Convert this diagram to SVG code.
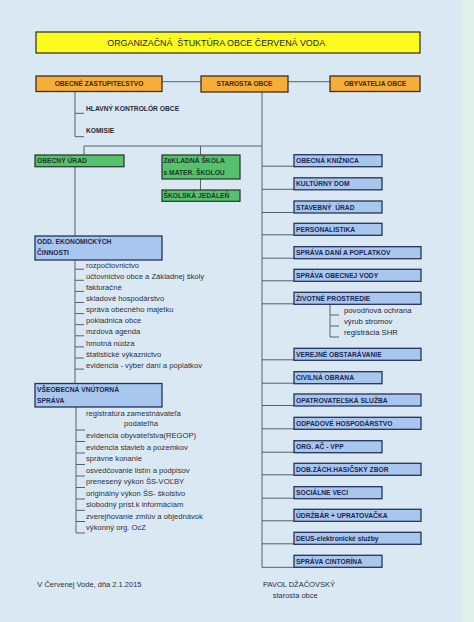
<svg xmlns="http://www.w3.org/2000/svg" width="474" height="622" viewBox="0 0 474 622">
<style>
.bg{fill:#dae8f3}
.edge{fill:#e1efe9}
.title{fill:#fbfb1e;stroke:#3a3a2a;stroke-width:1.3}
.or{fill:#f7ad3a;stroke:#40301a;stroke-width:1.3}
.gr{fill:#55c16c;stroke:#2a3f30;stroke-width:1.3}
.bl{fill:#a9c6ee;stroke:#26325a;stroke-width:1.3}
.ln{fill:none;stroke:#56606c;stroke-width:1}
text{font-family:"Liberation Sans",Arial,sans-serif}
.tt{font-size:8.9px;fill:#1e2240;white-space:pre}
.lb{font-size:6.7px;font-weight:bold;fill:#1c2650;white-space:pre}
.lbc{font-size:6.6px;font-weight:bold;fill:#3a2a10;text-anchor:middle}
.lbg{font-size:6.7px;font-weight:bold;fill:#1c3a2a}
.it{font-size:7.65px;fill:#2a3242}
.sb{font-size:7.7px;fill:#1d2540}
.hd{font-size:6.7px;font-weight:bold;fill:#262a36}
.ft{font-size:7.5px;fill:#2a3242}
</style>
<rect class="bg" x="0" y="0" width="474" height="622"/>
<rect class="edge" x="462" y="0" width="12" height="622"/>

<g id="connectors">
<path class="ln" d="M162 81.7H201M288 81.7H330"/>
<path class="ln" d="M75 91.5V136.7M75 113.3H84M75 136.7H84"/>
<path class="ln" d="M262 92V567.5"/>
<path class="ln" d="M84 146H262M84 146V155M200.5 146V155M200.5 179V190"/>
<path class="ln" d="M75 166.7V236"/>
<path class="ln" d="M75 260V383.5M75 269.2H84M75 280.3H84M75 291.4H84M75 302.5H84M75 313.6H84M75 324.7H84M75 335.8H84M75 346.9H84M75 358H84M75 369.1H84"/>
<path class="ln" d="M76 407V533M76 430H85M76 441.5H85M76 453H85M76 464.5H85M76 476H85M76 487.5H85M76 499H85M76 510.3H85M76 521.5H85M76 533H85"/>
<path class="ln" d="M262 166.2H294M262 189.3H294M262 212.5H294M262 234.8H294M262 258.2H294M262 280.8H294M262 303.8H294M262 359.8H294M262 383.2H294M262 405.5H294M262 428.8H294M262 452.2H294M262 474.8H294M262 498.2H294M262 520.8H294M262 543.8H294M262 567.3H294"/>
<path class="ln" d="M330 304V337M330 315H339M330 326H339M330 337H339"/>
</g>

<g id="title">
<rect class="title" x="36" y="32" width="384" height="21"/>
<text class="tt" x="107.3" y="45.7">ORGANIZAČNÁ  ŠTUKTÚRA OBCE ČERVENÁ VODA</text>
</g>

<g id="obecne-zastupitelstvo">
<rect class="or" x="36" y="76" width="126" height="15.5"/>
<text class="lbc" x="99" y="86.2">OBECNÉ ZASTUPITEĽSTVO</text>
</g>
<g id="starosta">
<rect class="or" x="201" y="76" width="87" height="16"/>
<text class="lbc" x="244.5" y="86.3">STAROSTA OBCE</text>
</g>
<g id="obyvatelia">
<rect class="or" x="330" y="76" width="90" height="15.5"/>
<text class="lbc" x="375" y="86.2">OBYVATELIA OBCE</text>
</g>

<g id="kontrolor"><text class="hd" x="86" y="110.8">HLAVNÝ KONTROLÓR OBCE</text></g>
<g id="komisie"><text class="hd" x="86" y="132.7">KOMISIE</text></g>

<g id="obecny-urad">
<rect class="gr" x="35" y="155" width="89" height="11.7"/>
<text class="lbg" x="37" y="163.3">OBECNÝ ÚRAD</text>
</g>
<g id="zakladna-skola">
<rect class="gr" x="162" y="155" width="78" height="24"/>
<text class="lbg" x="163.5" y="163.2">ZáKLADNÁ ŠKOLA</text>
<text class="lbg" x="163.5" y="175">s MATER. ŠKOLOU</text>
</g>
<g id="skolska-jedalen">
<rect class="gr" x="162" y="190" width="78" height="11.3"/>
<text class="lbg" x="163.5" y="198.1">ŠKOLSKÁ JEDÁLEŇ</text>
</g>

<g id="odd-ekonomickych">
<rect class="bl" x="35" y="236" width="127" height="24"/>
<text class="lb" x="37" y="244.2">ODD. EKONOMICKÝCH</text>
<text class="lb" x="37" y="255.2">ČINNOSTI</text>
</g>
<g id="ekonomicke-ulohy">
<text class="it" x="86" y="267.8">rozpočtovnictvo</text>
<text class="it" x="86" y="278.9">účtovnictvo obce a Základnej školy</text>
<text class="it" x="86" y="290">fakturačné</text>
<text class="it" x="86" y="301.1">skladové hospodárstvo</text>
<text class="it" x="86" y="312.2">správa obecného majetku</text>
<text class="it" x="86" y="323.3">pokladnica obce</text>
<text class="it" x="86" y="334.4">mzdová agenda</text>
<text class="it" x="86" y="345.5">hmotná núdza</text>
<text class="it" x="86" y="356.6">štatistické výkaznictvo</text>
<text class="it" x="86" y="367.7">evidencia - výber daní a poplatkov</text>
</g>

<g id="vseobecna-sprava">
<rect class="bl" x="35" y="383.5" width="127" height="23.5"/>
<text class="lb" x="37" y="391.6">VŠEOBECNÁ VNÚTORNÁ</text>
<text class="lb" x="37" y="403.2">SPRÁVA</text>
</g>
<g id="vseobecne-ulohy">
<text class="it" x="86" y="415.5">registratúra zamestnávateľa</text>
<text class="it" x="124" y="426.2">podateľňa</text>
<text class="it" x="86" y="438">evidencia obyvateľstva(REGOP)</text>
<text class="it" x="86" y="449.7">evidencia stavieb a pozemkov</text>
<text class="it" x="86" y="461.3">správne konanie</text>
<text class="it" x="86" y="472.8">osvedčovanie listín a podpisov</text>
<text class="it" x="86" y="484.2">prenesený výkon ŠS-VOĽBY</text>
<text class="it" x="86" y="495.8">originálny výkon ŠS- školstvo</text>
<text class="it" x="86" y="507.4">slobodný príst.k informáciam</text>
<text class="it" x="86" y="518.8">zverejňovanie zmlúv a objednávok</text>
<text class="it" x="86" y="530">výkonný org. OcZ</text>
</g>

<g id="kniznica"><rect class="bl" x="294" y="154.7" width="88" height="12"/><text class="lb" x="296" y="163.2">OBECNÁ KNIŽNICA</text></g>
<g id="kulturny-dom"><rect class="bl" x="294" y="177.8" width="88" height="12"/><text class="lb" x="296" y="186.3">KULTÚRNY DOM</text></g>
<g id="stavebny-urad"><rect class="bl" x="294" y="201" width="88" height="12"/><text class="lb" x="296" y="209.5">STAVEBNÝ  ÚRAD</text></g>
<g id="personalistika"><rect class="bl" x="294" y="223.3" width="88" height="12"/><text class="lb" x="296" y="231.8">PERSONALISTIKA</text></g>
<g id="sprava-dani"><rect class="bl" x="294" y="246.7" width="127" height="12"/><text class="lb" x="296" y="255.2">SPRÁVA DANÍ A POPLATKOV</text></g>
<g id="sprava-vody"><rect class="bl" x="294" y="269.3" width="127" height="12"/><text class="lb" x="296" y="277.8">SPRÁVA OBECNEJ VODY</text></g>
<g id="zivotne-prostredie"><rect class="bl" x="294" y="292.3" width="127" height="12"/><text class="lb" x="296" y="300.8">ŽIVOTNÉ PROSTREDIE</text>
<text class="sb" x="344" y="313.2">povodňová ochrana</text>
<text class="sb" x="344" y="324.2">výrub stromov</text>
<text class="sb" x="344" y="335.2">registrácia SHR</text>
</g>
<g id="verejne-obstaravanie"><rect class="bl" x="294" y="348.3" width="127" height="12"/><text class="lb" x="296" y="356.8">VEREJNÉ OBSTARÁVANIE</text></g>
<g id="civilna-obrana"><rect class="bl" x="294" y="371.7" width="88" height="12"/><text class="lb" x="296" y="380.2">CIVILNÁ OBRANA</text></g>
<g id="opatrovatelska"><rect class="bl" x="294" y="394" width="127" height="12"/><text class="lb" x="296" y="402.5">OPATROVATEĽSKÁ SLUŽBA</text></g>
<g id="odpadove"><rect class="bl" x="294" y="417.3" width="127" height="12"/><text class="lb" x="296" y="425.8">ODPADOVÉ HOSPODÁRSTVO</text></g>
<g id="org-ac"><rect class="bl" x="294" y="440.7" width="88" height="12"/><text class="lb" x="296" y="449.2">ORG. AČ - VPP</text></g>
<g id="hasicsky-zbor"><rect class="bl" x="294" y="463.3" width="127" height="12"/><text class="lb" x="296" y="471.8">DOB.ZÁCH.HASIČSKÝ ZBOR</text></g>
<g id="socialne-veci"><rect class="bl" x="294" y="486.7" width="88" height="12"/><text class="lb" x="296" y="495.2">SOCIÁLNE VECI</text></g>
<g id="udrzbar"><rect class="bl" x="294" y="509.3" width="127" height="12"/><text class="lb" x="296" y="517.8">ÚDRŽBÁR + UPRATOVAČKA</text></g>
<g id="deus"><rect class="bl" x="294" y="532.3" width="127" height="12"/><text class="lb" x="296" y="540.8">DEUS-elektronické služby</text></g>
<g id="sprava-cintorina"><rect class="bl" x="294" y="555.3" width="88" height="12"/><text class="lb" x="296" y="563.8">SPRÁVA CINTORÍNA</text></g>

<g id="footer">
<text class="ft" x="37.3" y="587">V Červenej Vode, dňa 2.1.2015</text>
<text class="ft" x="263" y="587">PAVOL DŽAČOVSKÝ</text>
<text class="ft" x="272.7" y="598.3">starosta obce</text>
</g>
</svg>
